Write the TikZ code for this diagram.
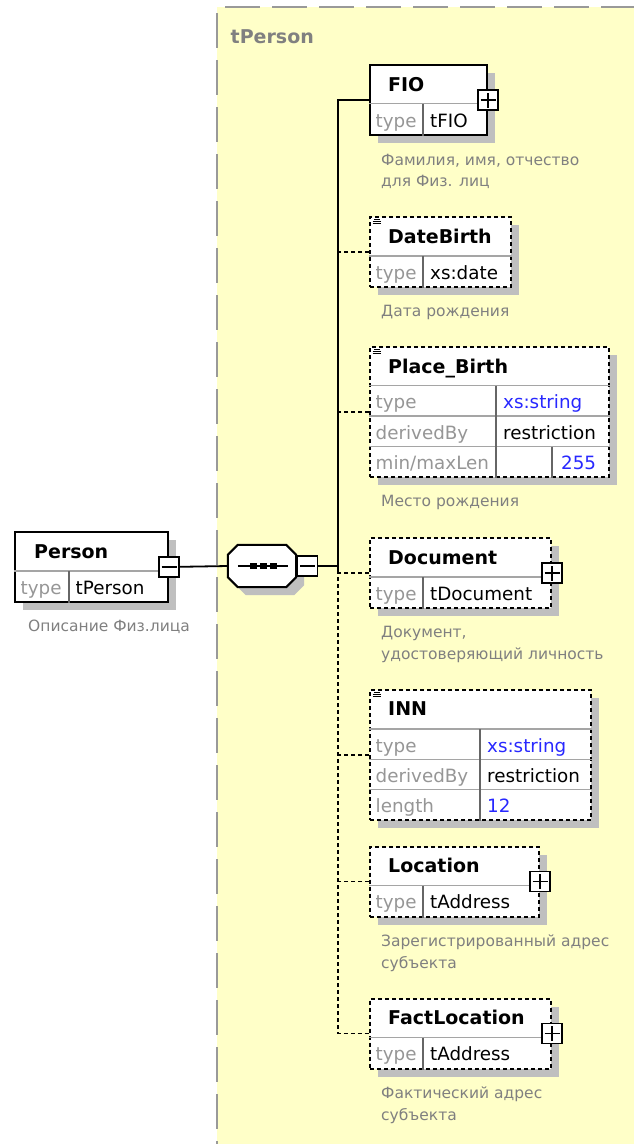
\documentclass[tikz,border=0pt]{standalone}
\usepackage{fontspec}
\setmainfont{DejaVu Sans}
\usepackage{xcolor}
\usetikzlibrary{positioning,shadows}
\definecolor{bgyel}{RGB}{255,255,200}
\definecolor{lblgray}{RGB}{150,150,150}
\definecolor{descgray}{RGB}{128,128,128}
\definecolor{valblue}{RGB}{40,40,255}
\definecolor{rulegray}{RGB}{165,165,165}

\begin{document}
\begin{tikzpicture}[x=1pt, y=-1pt,
  elem/.style={draw, fill=white, line width=2pt, inner sep=0pt, anchor=north west,
    drop shadow={shadow xshift=8pt, shadow yshift=-8pt, fill=black!25, opacity=1, draw=none}},
  optelem/.style={elem, dash pattern=on 4pt off 3pt},
  ttl/.style={anchor=base west, inner sep=0pt, font=\fontsize{19}{22}\selectfont\bfseries},
  key/.style={anchor=base west, inner sep=0pt, font=\fontsize{18.3}{22}\selectfont, text=lblgray},
  val/.style={key, text=black},
  bval/.style={key, text=valblue},
  desc/.style={anchor=base west, inner sep=0pt, align=left, font=\fontsize{15.5}{21.5}\selectfont, text=descgray},
  hsep/.style={rulegray, line width=1.2pt},
  vsep/.style={black!60, line width=1.2pt},
  icon/.style={line width=1pt},
  frame/.style={black!40, line width=1.4pt, dash pattern=on 35pt off 12pt},
  conn/.style={line width=1.8pt},
  dconn/.style={conn, dash pattern=on 4pt off 3pt},
  pm/.style={draw, fill=white, line width=1.7pt, minimum size=20pt, inner sep=0pt},
  minus/.style={pm, path picture={
    \draw[line width=1.6pt] ([xshift=-7.5pt]path picture bounding box.center) -- ([xshift=7.5pt]path picture bounding box.center);}},
  plus/.style={pm, path picture={
    \draw[line width=1.6pt] ([xshift=-7.5pt]path picture bounding box.center) -- ([xshift=7.5pt]path picture bounding box.center);
    \draw[line width=1.6pt] ([yshift=-7.5pt]path picture bounding box.center) -- ([yshift=7.5pt]path picture bounding box.center);}}]
\useasboundingbox (0,0) rectangle (634,1144);
% complex type area
\fill[bgyel] (217,7) rectangle (634,1144);
\draw[frame, dash phase=39pt] (217,7) -- (634,7);
\draw[frame, dash phase=41pt] (217,7) -- (217,1144);
\node[anchor=base west, inner sep=0pt, font=\fontsize{19}{22}\selectfont\bfseries, text=black!50] (hdr) at (230.5,43.5) {tPerson};

% root element
\node[elem, minimum width=153pt, minimum height=70pt] (person) at (14,531) {};
\draw[hsep] ([yshift=-40pt]person.north west) -- ([yshift=-40pt]person.north east);
\draw[vsep] ([xshift=55pt,yshift=-40pt]person.north west) -- ([xshift=55pt]person.south west);
\node[ttl] (personT) at ([xshift=20pt,yshift=-27.5pt]person.north west) {Person};
\node[key] (personK) at ([xshift=6.5pt,yshift=-63pt]person.north west) {type};
\node[val] (personV) at ([xshift=61.5pt,yshift=-63pt]person.north west) {tPerson};
\node[desc] (personD) at ([xshift=14pt,yshift=-100pt]person.north west) {Описание Физ.лица};

% sequence
\node[minimum width=68pt, minimum height=42pt, inner sep=0pt] (seq) at (262,566) {};
\fill[black!25, transform canvas={xshift=8pt,yshift=-8pt}] ([xshift=10pt]seq.north west) -- ([xshift=-10pt]seq.north east)
  -- ([yshift=-10pt]seq.north east) -- ([yshift=10pt]seq.south east) -- ([xshift=-10pt]seq.south east)
  -- ([xshift=10pt]seq.south west) -- ([yshift=10pt]seq.south west) -- ([yshift=-10pt]seq.north west) -- cycle;
\draw[conn, line width=2pt, fill=white] ([xshift=10pt]seq.north west) -- ([xshift=-10pt]seq.north east)
  -- ([yshift=-10pt]seq.north east) -- ([yshift=10pt]seq.south east) -- ([xshift=-10pt]seq.south east)
  -- ([xshift=10pt]seq.south west) -- ([yshift=10pt]seq.south west) -- ([yshift=-10pt]seq.north west) -- cycle;
\draw[line width=1.6pt] ([xshift=10pt]seq.west) -- ([xshift=-8pt]seq.east);
\fill (250,563) rectangle (256.5,569);
\fill (260,563) rectangle (266.5,569);
\fill (270,563) rectangle (276.5,569);
\node[minus] (seqM) at (307.5,566) {};
\coordinate (trk) at (338,566);

% FIO
\node[elem, minimum width=117pt, minimum height=70pt] (fio) at (369,64) {};
\draw[hsep] ([yshift=-39.5pt]fio.north west) -- ([yshift=-39.5pt]fio.north east);
\draw[vsep] ([xshift=54pt,yshift=-39.5pt]fio.north west) -- ([xshift=54pt]fio.south west);
\node[ttl] (fioT) at ([xshift=19pt,yshift=-27pt]fio.north west) {FIO};
\node[key] (fioK) at ([xshift=6.5pt,yshift=-63pt]fio.north west) {type};
\node[val] (fioV) at ([xshift=61pt,yshift=-63pt]fio.north west) {tFIO};
\node[desc] (fioD) at ([xshift=12pt,yshift=-122.5pt]fio.north west) {Фамилия, имя, отчество\\для Физ. лиц};

% DateBirth
\node[optelem, minimum width=141pt, minimum height=70pt] (datebirth) at (369,216) {};
\draw[hsep] ([yshift=-40pt]datebirth.north west) -- ([yshift=-40pt]datebirth.north east);
\draw[vsep] ([xshift=54pt,yshift=-40pt]datebirth.north west) -- ([xshift=54pt]datebirth.south west);
\draw[icon] ([xshift=5pt,yshift=-3pt]datebirth.north west) -- ++(5.5,0);
\draw[icon] ([xshift=3.5pt,yshift=-5.2pt]datebirth.north west) -- ++(8,0);
\draw[icon] ([xshift=3.5pt,yshift=-7.4pt]datebirth.north west) -- ++(8,0);
\node[ttl] (datebirthT) at ([xshift=19pt,yshift=-27pt]datebirth.north west) {DateBirth};
\node[key] (datebirthK) at ([xshift=6.5pt,yshift=-63pt]datebirth.north west) {type};
\node[val] (datebirthV) at ([xshift=61pt,yshift=-63pt]datebirth.north west) {xs:date};
\node[desc] (datebirthD) at ([xshift=12pt,yshift=-100.5pt]datebirth.north west) {Дата рождения};

% Place_Birth
\node[optelem, minimum width=239pt, minimum height=130pt] (placebirth) at (369,346) {};
\draw[hsep] ([yshift=-39.5pt]placebirth.north west) -- ([yshift=-39.5pt]placebirth.north east);
\draw[hsep] ([yshift=-70pt]placebirth.north west) -- ([yshift=-70pt]placebirth.north east);
\draw[hsep] ([yshift=-100.5pt]placebirth.north west) -- ([yshift=-100.5pt]placebirth.north east);
\draw[vsep] ([xshift=127pt,yshift=-39.5pt]placebirth.north west) -- ([xshift=127pt]placebirth.south west);
\draw[vsep] ([xshift=183pt,yshift=-100.5pt]placebirth.north west) -- ([xshift=183pt]placebirth.south west);
\draw[icon] ([xshift=5pt,yshift=-3pt]placebirth.north west) -- ++(5.5,0);
\draw[icon] ([xshift=3.5pt,yshift=-5.2pt]placebirth.north west) -- ++(8,0);
\draw[icon] ([xshift=3.5pt,yshift=-7.4pt]placebirth.north west) -- ++(8,0);
\node[ttl] (placebirthT) at ([xshift=19pt,yshift=-27pt]placebirth.north west) {Place\_Birth};
\node[key] (placebirthK1) at ([xshift=6.5pt,yshift=-62.5pt]placebirth.north west) {type};
\node[key] (placebirthK2) at ([xshift=6.5pt,yshift=-93pt]placebirth.north west) {derivedBy};
\node[key] (placebirthK3) at ([xshift=6.5pt,yshift=-123pt]placebirth.north west) {min/maxLen};
\node[bval] (placebirthV1) at ([xshift=134pt,yshift=-62.5pt]placebirth.north west) {xs:string};
\node[val] (placebirthV2) at ([xshift=134pt,yshift=-93pt]placebirth.north west) {restriction};
\node[bval] (placebirthV3) at ([xshift=192pt,yshift=-123pt]placebirth.north west) {255};
\node[desc] (placebirthD) at ([xshift=12pt,yshift=-160.5pt]placebirth.north west) {Место рождения};

% Document
\node[optelem, minimum width=181pt, minimum height=70pt] (document) at (369,537) {};
\draw[hsep] ([yshift=-40pt]document.north west) -- ([yshift=-40pt]document.north east);
\draw[vsep] ([xshift=54pt,yshift=-40pt]document.north west) -- ([xshift=54pt]document.south west);
\node[ttl] (documentT) at ([xshift=19pt,yshift=-27pt]document.north west) {Document};
\node[key] (documentK) at ([xshift=6.5pt,yshift=-63pt]document.north west) {type};
\node[val] (documentV) at ([xshift=61pt,yshift=-63pt]document.north west) {tDocument};
\node[desc] (documentD) at ([xshift=12pt,yshift=-122pt]document.north west) {Документ,\\удостоверяющий личность};

% INN
\node[optelem, minimum width=221pt, minimum height=130pt] (inn) at (369,689) {};
\draw[hsep] ([yshift=-40pt]inn.north west) -- ([yshift=-40pt]inn.north east);
\draw[hsep] ([yshift=-70.5pt]inn.north west) -- ([yshift=-70.5pt]inn.north east);
\draw[hsep] ([yshift=-100.5pt]inn.north west) -- ([yshift=-100.5pt]inn.north east);
\draw[vsep] ([xshift=111pt,yshift=-40pt]inn.north west) -- ([xshift=111pt]inn.south west);
\draw[icon] ([xshift=5pt,yshift=-3pt]inn.north west) -- ++(5.5,0);
\draw[icon] ([xshift=3.5pt,yshift=-5.2pt]inn.north west) -- ++(8,0);
\draw[icon] ([xshift=3.5pt,yshift=-7.4pt]inn.north west) -- ++(8,0);
\node[ttl] (innT) at ([xshift=19pt,yshift=-26.5pt]inn.north west) {INN};
\node[key] (innK1) at ([xshift=6.5pt,yshift=-63pt]inn.north west) {type};
\node[key] (innK2) at ([xshift=6.5pt,yshift=-93.5pt]inn.north west) {derivedBy};
\node[key] (innK3) at ([xshift=6.5pt,yshift=-123.5pt]inn.north west) {length};
\node[bval] (innV1) at ([xshift=118pt,yshift=-63pt]inn.north west) {xs:string};
\node[val] (innV2) at ([xshift=118pt,yshift=-93.5pt]inn.north west) {restriction};
\node[bval] (innV3) at ([xshift=118pt,yshift=-123.5pt]inn.north west) {12};

% Location
\node[optelem, minimum width=169pt, minimum height=70pt] (location) at (369,845.5) {};
\draw[hsep] ([yshift=-40pt]location.north west) -- ([yshift=-40pt]location.north east);
\draw[vsep] ([xshift=54pt,yshift=-40pt]location.north west) -- ([xshift=54pt]location.south west);
\node[ttl] (locationT) at ([xshift=19pt,yshift=-27pt]location.north west) {Location};
\node[key] (locationK) at ([xshift=6.5pt,yshift=-63pt]location.north west) {type};
\node[val] (locationV) at ([xshift=61pt,yshift=-63pt]location.north west) {tAddress};
\node[desc] (locationD) at ([xshift=12pt,yshift=-122.5pt]location.north west) {Зарегистрированный адрес\\субъекта};

% FactLocation
\node[optelem, minimum width=181pt, minimum height=70pt] (factloc) at (369,997.5) {};
\draw[hsep] ([yshift=-40pt]factloc.north west) -- ([yshift=-40pt]factloc.north east);
\draw[vsep] ([xshift=54pt,yshift=-40pt]factloc.north west) -- ([xshift=54pt]factloc.south west);
\node[ttl] (factlocT) at ([xshift=19pt,yshift=-27pt]factloc.north west) {FactLocation};
\node[key] (factlocK) at ([xshift=6.5pt,yshift=-63pt]factloc.north west) {type};
\node[val] (factlocV) at ([xshift=61pt,yshift=-63pt]factloc.north west) {tAddress};
\node[desc] (factlocD) at ([xshift=12pt,yshift=-122.5pt]factloc.north west) {Фактический адрес\\субъекта};

% connectors
\node[minus] (personM) at (person.east) {};
\draw[conn] (personM) -- (seq.west);
\draw[conn] (seqM) -- (trk);
\draw[conn] (fio.west) -| (document.west -| trk);
\draw[dconn] (datebirth.west) -- (datebirth.west -| trk);
\draw[dconn] (placebirth.west) -- (placebirth.west -| trk);
\draw[dconn] (document.west) -| (factloc.west -| trk) -- (factloc.west);
\draw[dconn] (inn.west) -- (inn.west -| trk);
\draw[dconn] (location.west) -- (location.west -| trk);
\node[plus] (fioP) at (fio.east) {};
\node[plus] (documentP) at (document.east) {};
\node[plus] (locationP) at (location.east) {};
\node[plus] (factlocP) at (factloc.east) {};
\end{tikzpicture}
\end{document}
